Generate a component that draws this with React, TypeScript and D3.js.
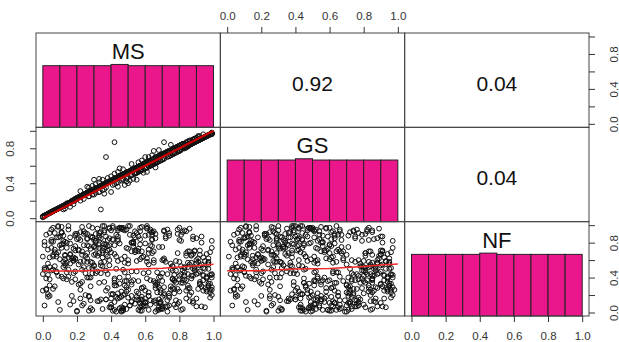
import * as d3 from "d3";
import { useEffect, useRef } from "react";

// variable names on the diagonal
const VARS = ["MS", "GS", "NF"];

// correlations shown in the upper panels: (row 0, col 1), (row 0, col 2), (row 1, col 2)
const CORR_LABELS = ["0.92", "0.04", "0.04"];

// histogram breaks and counts per variable
const BREAKS = [0, 0.1, 0.2, 0.3, 0.4, 0.5, 0.6, 0.7, 0.8, 0.9, 1.0];
const MS_COUNTS = [98, 98, 98, 98, 100, 98, 98, 98, 98, 98];
const GS_COUNTS = [98, 98, 98, 98, 100, 98, 98, 98, 98, 98];
const NF_COUNTS = [98, 98, 98, 98, 100, 98, 98, 98, 98, 98];

const TICKS = [0, 0.2, 0.4, 0.6, 0.8, 1.0];
const SIDE_LABELS = [0, 0.4, 0.8];

// smoothed fits
const SMOOTH_X = [0, 0.1, 0.2, 0.3, 0.4, 0.5, 0.6, 0.7, 0.8, 0.9, 1.0];
const SMOOTH_MS_GS = [0.0, 0.1, 0.2, 0.3, 0.4, 0.5, 0.6, 0.7, 0.8, 0.9, 1.0];
const SMOOTH_MS_NF = [0.478, 0.475, 0.476, 0.482, 0.486, 0.492, 0.5, 0.507, 0.52, 0.535, 0.552];
const SMOOTH_GS_NF = [0.478, 0.477, 0.479, 0.49, 0.497, 0.5, 0.504, 0.514, 0.528, 0.543, 0.556];

// observations, in percent
const MS = [
  3, 57, 81, 24, 66, 12, 95, 38, 47, 71, 8, 29, 88, 53, 16, 76, 41, 62, 99, 33,
  51, 19, 84, 6, 70, 43, 27, 92, 60, 35, 78, 1, 14, 65, 89, 46, 22, 55, 97, 31,
  74, 9, 42, 87, 58, 26, 13, 68, 36, 94, 49, 80, 4, 61, 20, 45, 99, 32, 72, 54,
  17, 63, 39, 90, 2, 77, 52, 28, 85, 11, 67, 44, 96, 23, 56, 34, 82, 7, 48, 73,
  30, 86, 5, 59, 41, 93, 18, 70, 25, 64, 50, 10, 79, 37, 97, 15, 57, 83, 46, 21,
  66, 3, 88, 40, 27, 75, 54, 14, 92, 33, 61, 8, 47, 84, 19, 71, 36, 98, 58, 24,
  45, 79, 12, 55, 96, 31, 68, 0, 83, 22, 49, 91, 38, 6, 73, 60, 16, 87, 29, 52,
  89, 26, 63, 9, 42, 77, 35, 99, 57, 18, 70, 4, 50, 81, 28, 94, 44, 13, 66, 37,
  58, 14, 93, 47, 21, 74, 5, 62, 38, 86, 30, 69, 97, 52, 11, 80, 43, 25, 90, 65,
  2, 36, 71, 53, 88, 19, 60, 44, 95, 27, 78, 10, 56, 32, 84, 48, 66, 7, 99, 40,
  82, 24, 49, 6, 64, 91, 33, 76, 15, 57, 98, 41, 69, 1, 85, 28, 54, 18, 73, 46,
  35, 67, 11, 90, 52, 26, 80, 42, 3, 61, 95, 17, 74, 39, 87, 21, 58, 45, 13, 70,
  94, 8, 47, 31, 76, 62, 19, 85, 54, 37, 99, 23, 68, 12, 50, 82, 29, 63, 5, 43,
  16, 72, 39, 96, 58, 4, 81, 27, 65, 48, 89, 34, 9, 77, 55, 20, 92, 41, 69, 30,
  51, 86, 23, 64, 7, 45, 97, 34, 78, 14, 60, 91, 26, 71, 40, 83, 1, 56, 18, 67,
  75, 38, 93, 11, 59, 29, 84, 47, 2, 66, 22, 79, 53, 97, 35, 70, 15, 88, 43, 61,
  25, 57, 6, 80, 44, 98, 32, 69, 13, 90, 50, 36, 74, 19, 62, 87, 41, 9, 94, 28,
  63, 0, 46, 85, 21, 72, 55, 10, 93, 37, 78, 27, 59, 4, 81, 49, 16, 99, 33, 68,
  8, 52, 30, 76, 15, 89, 42, 64, 24, 96, 57, 3, 82, 39, 70, 12, 48, 86, 34, 60,
  97, 43, 19, 66, 5, 83, 28, 71, 50, 12, 88, 35, 62, 1, 77, 46, 23, 92, 56, 39,
  42, 37, 34, 71, 30, 26, 45, 60, 55, 65, 48, 40, 52, 33, 58, 68, 44, 22, 75, 50,
  14, 68, 37, 92, 53, 6, 79, 25, 61, 44, 98, 19, 73, 31, 86, 2, 57, 40, 94, 11,
  48, 83, 22, 65, 9, 76, 39, 55, 96, 27, 70, 4, 45, 88, 16, 62, 33, 80, 51, 99,
  71, 7, 58, 34, 90, 20, 63, 47, 81, 13, 38, 95, 54, 26, 77, 1, 68, 42, 86, 30,
  5, 59, 93, 36, 74, 18, 49, 84, 28, 66, 10, 97, 41, 79, 23, 57, 89, 32, 64, 46,
  87, 41, 15, 72, 52, 98, 29, 64, 3, 81, 35, 57, 92, 20, 69, 46, 11, 76, 60, 24,
  33, 78, 56, 12, 91, 44, 67, 23, 85, 50, 7, 62, 39, 96, 18, 73, 28, 83, 48, 0,
  60, 26, 94, 39, 75, 8, 53, 87, 17, 69, 42, 99, 31, 58, 4, 82, 46, 21, 65, 37,
  19, 84, 48, 70, 2, 55, 36, 90, 62, 29, 77, 13, 45, 98, 24, 67, 52, 9, 80, 40,
  52, 31, 74, 6, 63, 88, 16, 43, 97, 26, 58, 80, 35, 11, 69, 92, 47, 22, 85, 56,
  27, 49, 33, 61, 40, 56, 36, 64, 44, 31, 53, 47, 38, 66, 29, 59, 42, 51, 35, 62,
];
const GS = [
  5, 55, 84, 22, 70, 14, 93, 41, 45, 74, 10, 27, 90, 56, 13, 78, 44, 60, 97, 36,
  49, 22, 82, 8, 67, 46, 25, 94, 63, 32, 80, 2, 17, 62, 91, 49, 20, 58, 95, 34,
  77, 11, 45, 85, 61, 29, 11, 71, 33, 96, 52, 77, 6, 58, 23, 48, 98, 35, 75, 51,
  19, 60, 42, 92, 4, 74, 55, 31, 83, 13, 70, 41, 94, 26, 53, 37, 80, 9, 51, 70,
  33, 88, 7, 62, 38, 91, 20, 73, 28, 61, 53, 12, 81, 40, 95, 17, 60, 85, 49, 24,
  63, 5, 90, 43, 25, 78, 51, 16, 90, 36, 64, 10, 44, 86, 22, 68, 39, 96, 61, 27,
  48, 81, 10, 58, 94, 34, 65, 1, 85, 25, 46, 93, 41, 8, 76, 57, 18, 89, 32, 55,
  87, 29, 66, 11, 45, 75, 38, 97, 54, 20, 73, 6, 53, 79, 31, 92, 47, 15, 63, 40,
  61, 16, 91, 50, 24, 71, 7, 65, 41, 84, 33, 72, 95, 55, 13, 83, 40, 28, 88, 68,
  4, 39, 68, 56, 86, 21, 63, 47, 93, 30, 81, 12, 53, 35, 87, 51, 63, 9, 97, 43,
  85, 27, 52, 8, 61, 94, 30, 79, 17, 60, 96, 44, 66, 3, 88, 31, 57, 16, 76, 49,
  38, 64, 13, 88, 55, 29, 83, 45, 5, 58, 93, 20, 71, 42, 85, 24, 61, 48, 15, 73,
  92, 10, 50, 34, 79, 59, 22, 83, 57, 40, 96, 26, 71, 14, 47, 85, 32, 66, 7, 46,
  18, 75, 42, 94, 61, 6, 79, 30, 62, 51, 91, 37, 11, 80, 52, 23, 90, 44, 72, 33,
  54, 84, 26, 61, 9, 48, 95, 37, 81, 16, 63, 89, 29, 74, 43, 81, 3, 59, 20, 70,
  72, 41, 91, 13, 62, 32, 81, 50, 4, 69, 25, 76, 56, 95, 38, 73, 17, 90, 46, 64,
  28, 60, 8, 77, 47, 96, 35, 72, 15, 88, 53, 39, 77, 21, 65, 85, 44, 11, 92, 31,
  66, 2, 49, 83, 24, 75, 52, 12, 91, 40, 81, 30, 62, 6, 84, 52, 18, 97, 36, 71,
  10, 55, 33, 79, 17, 87, 45, 67, 27, 94, 60, 5, 85, 42, 73, 14, 51, 84, 37, 63,
  95, 46, 21, 69, 7, 80, 31, 74, 53, 14, 86, 38, 65, 3, 80, 49, 26, 90, 59, 42,
  87, 70, 10, 87, 44, 36, 57, 70, 44, 77, 38, 30, 62, 45, 66, 78, 53, 31, 84, 40,
  16, 71, 35, 90, 56, 8, 76, 28, 58, 47, 96, 21, 76, 29, 84, 4, 54, 43, 92, 13,
  51, 81, 25, 68, 11, 73, 42, 52, 94, 30, 67, 6, 48, 86, 18, 65, 30, 83, 54, 97,
  74, 9, 55, 37, 88, 23, 60, 50, 84, 15, 41, 93, 51, 29, 80, 3, 71, 39, 89, 27,
  7, 62, 91, 39, 77, 20, 52, 81, 31, 63, 12, 95, 44, 82, 26, 60, 87, 35, 67, 43,
  85, 44, 17, 75, 49, 96, 32, 67, 5, 78, 38, 54, 90, 23, 72, 49, 13, 79, 57, 27,
  36, 75, 59, 14, 89, 47, 64, 26, 83, 53, 9, 65, 42, 94, 21, 76, 31, 80, 51, 2,
  63, 29, 92, 42, 72, 10, 56, 85, 19, 66, 45, 97, 34, 55, 6, 85, 49, 24, 62, 40,
  21, 82, 51, 73, 4, 58, 39, 88, 65, 32, 74, 15, 48, 96, 27, 64, 49, 11, 83, 43,
  55, 34, 71, 8, 66, 86, 18, 46, 95, 29, 61, 77, 38, 13, 72, 90, 50, 25, 82, 59,
  35, 42, 41, 53, 48, 64, 28, 72, 36, 39, 45, 56, 46, 58, 37, 52, 51, 43, 44, 70,
];
const NF = [
  72, 15, 44, 90, 31, 58, 6, 83, 49, 22, 64, 97, 11, 37, 79, 53, 2, 68, 40, 86,
  8, 61, 93, 27, 75, 50, 19, 35, 88, 4, 59, 81, 46, 13, 70, 96, 33, 24, 55, 67,
  91, 42, 3, 57, 18, 84, 66, 29, 73, 51, 95, 12, 38, 62, 1, 79, 26, 47, 85, 10,
  35, 77, 60, 16, 89, 43, 70, 5, 52, 98, 23, 84, 39, 66, 14, 92, 48, 30, 57, 1,
  54, 28, 81, 45, 97, 7, 63, 36, 20, 76, 41, 3, 68, 87, 30, 49, 11, 94, 18, 71,
  85, 21, 67, 9, 40, 56, 93, 74, 32, 13, 99, 47, 5, 25, 88, 62, 78, 43, 2, 59,
  17, 90, 52, 71, 26, 82, 6, 64, 38, 92, 29, 58, 76, 97, 44, 12, 86, 65, 3, 80,
  48, 68, 14, 99, 77, 37, 53, 20, 84, 45, 7, 31, 60, 89, 73, 25, 96, 56, 34, 15,
  63, 38, 87, 5, 55, 19, 95, 46, 28, 70, 83, 10, 50, 32, 74, 58, 18, 91, 7, 36,
  26, 94, 60, 80, 42, 71, 11, 87, 59, 2, 34, 77, 22, 65, 16, 46, 90, 53, 82, 69,
  4, 52, 36, 66, 92, 27, 78, 48, 99, 61, 17, 83, 41, 8, 57, 30, 71, 13, 95, 24,
  79, 34, 91, 56, 13, 85, 24, 67, 43, 96, 50, 19, 88, 6, 39, 72, 28, 97, 61, 45,
  37, 86, 20, 74, 53, 3, 90, 31, 69, 15, 44, 98, 11, 79, 26, 92, 57, 9, 48, 64,
  9, 58, 97, 41, 28, 63, 82, 18, 93, 36, 71, 54, 86, 22, 47, 2, 66, 84, 12, 75,
  89, 13, 49, 84, 69, 97, 33, 57, 6, 80, 25, 62, 40, 94, 16, 51, 77, 3, 59, 32,
  50, 71, 30, 92, 7, 45, 68, 95, 39, 14, 83, 27, 76, 62, 99, 18, 41, 87, 1, 58,
  65, 2, 81, 38, 59, 23, 96, 12, 54, 85, 73, 35, 8, 47, 89, 66, 21, 98, 42, 14,
  93, 44, 6, 70, 32, 87, 15, 61, 80, 25, 48, 99, 64, 19, 3, 74, 56, 29, 91, 40,
  46, 19, 76, 28, 95, 52, 34, 83, 10, 67, 97, 56, 37, 72, 4, 88, 64, 20, 45, 79,
  31, 89, 62, 1, 74, 42, 58, 93, 17, 39, 84, 68, 23, 51, 36, 97, 8, 71, 87, 54,
  12, 66, 85, 29, 53, 77, 40, 8, 91, 60, 21, 94, 47, 34, 70, 15, 82, 58, 26, 99,
  57, 3, 78, 33, 88, 64, 10, 45, 97, 22, 69, 38, 14, 82, 55, 27, 93, 6, 63, 41,
  94, 46, 26, 70, 12, 38, 85, 59, 24, 76, 5, 91, 33, 50, 67, 19, 74, 97, 8, 43,
  20, 72, 98, 15, 60, 90, 37, 2, 53, 81, 44, 28, 86, 62, 9, 49, 75, 31, 96, 66,
  83, 29, 55, 92, 17, 73, 4, 65, 40, 11, 87, 58, 21, 95, 35, 78, 50, 13, 68, 2,
  42, 99, 63, 7, 80, 26, 51, 89, 18, 34, 71, 6, 47, 84, 23, 61, 92, 39, 16, 77,
  68, 14, 36, 82, 45, 94, 3, 70, 28, 56, 91, 19, 77, 40, 60, 7, 87, 52, 31, 25,
  11, 58, 43, 96, 30, 67, 81, 23, 62, 4, 39, 74, 90, 15, 52, 34, 1, 85, 57, 48,
  76, 37, 9, 60, 50, 18, 99, 44, 72, 86, 27, 65, 5, 33, 93, 46, 12, 69, 83, 21,
  35, 80, 22, 49, 95, 13, 66, 31, 57, 90, 8, 42, 63, 78, 26, 54, 97, 16, 44, 73,
  51, 24, 88, 39, 6, 70, 58, 92, 16, 45, 79, 3, 64, 28, 86, 10, 37, 99, 74, 55,
];

const W = 619;
const H = 342;
const LEFT = 36, RIGHT = 589, TOP = 33, BOTTOM = 316;
const FONT = "'Liberation Sans', Arial, sans-serif";
const PINK = "#ec168c";

export default function App() {
  const topAxis = useRef<SVGGElement>(null);
  const bottomAxes = useRef<SVGGElement>(null);
  const sideAxes = useRef<SVGGElement>(null);

  const cw = (RIGHT - LEFT) / 3;
  const rh = (BOTTOM - TOP) / 3;
  const xs = [0, 1, 2].map((i) =>
    d3.scaleLinear().domain([-0.04, 1.04]).range([LEFT + i * cw, LEFT + (i + 1) * cw])
  );
  const ys = [0, 1, 2].map((i) =>
    d3.scaleLinear().domain([-0.04, 1.04]).range([TOP + (i + 1) * rh, TOP + i * rh])
  );
  const vals = [MS, GS, NF].map((a) => a.map((v) => v / 100));
  const counts = [MS_COUNTS, GS_COUNTS, NF_COUNTS];
  const smooths: Record<string, number[]> = { "1-0": SMOOTH_MS_GS, "2-0": SMOOTH_MS_NF, "2-1": SMOOTH_GS_NF };
  const corrPos = [[0, 1], [0, 2], [1, 2]];

  useEffect(() => {
    const fmt = d3.format(".1f");
    const style = (g: any) => {
      g.select(".domain").remove();
      g.attr("font-family", FONT).attr("font-size", 11.5).attr("color", "#333");
      g.selectAll("line").attr("stroke-width", 1);
    };

    const t = d3.select(topAxis.current);
    t.selectAll("*").remove();
    t.append("g")
      .attr("transform", `translate(0,${TOP})`)
      .call(d3.axisTop(xs[1]).tickValues(TICKS).tickFormat(fmt).tickSize(6).tickPadding(7))
      .call(style);

    const b = d3.select(bottomAxes.current);
    b.selectAll("*").remove();
    [0, 2].forEach((c) => {
      b.append("g")
        .attr("transform", `translate(0,${BOTTOM})`)
        .call(d3.axisBottom(xs[c]).tickValues(TICKS).tickFormat(fmt).tickSize(6).tickPadding(10))
        .call(style);
    });

    const s = d3.select(sideAxes.current);
    s.selectAll("*").remove();
    const sideFmt = (d: any) => (SIDE_LABELS.some((v) => Math.abs(v - d) < 1e-9) ? fmt(d) : "");
    // left axis on row 1, right axis on rows 0 and 2
    const sides: [number, boolean][] = [[1, true], [0, false], [2, false]];
    sides.forEach(([r, isLeft]) => {
      const g = s.append("g")
        .attr("transform", `translate(${isLeft ? LEFT : RIGHT},0)`)
        .call(
          (isLeft ? d3.axisLeft(ys[r]) : d3.axisRight(ys[r]))
            .tickValues(TICKS).tickFormat(sideFmt).tickSize(6)
        )
        .call(style);
      g.selectAll("text")
        .attr("x", 0).attr("y", 0).attr("dy", "0.35em")
        .attr("text-anchor", "middle")
        .attr("transform", `translate(${isLeft ? -26 : 25},0) rotate(-90)`);
    });
  }, []);

  const line = (c: number, r: number) =>
    d3.line<number>()
      .x((_, i) => xs[c](SMOOTH_X[i]))
      .y((d) => ys[r](d));

  const panels: JSX.Element[] = [];
  for (let r = 0; r < 3; r++) {
    for (let c = 0; c < 3; c++) {
      const key = `${r}-${c}`;
      if (r === c) {
        const cnt = counts[r];
        const max = d3.max(cnt) as number;
        const base = TOP + (r + 1) * rh;
        const yHist = d3.scaleLinear().domain([0, 1.5]).range([base, TOP + r * rh]);
        panels.push(
          <g key={key}>
            {cnt.map((n, i) => (
              <rect
                key={i}
                x={xs[c](BREAKS[i])}
                y={yHist(n / max)}
                width={xs[c](BREAKS[i + 1]) - xs[c](BREAKS[i])}
                height={base - yHist(n / max)}
                fill={PINK}
                stroke="#222"
                strokeWidth={1}
              />
            ))}
            <text
              x={LEFT + (c + 0.5) * cw}
              y={TOP + r * rh + 18}
              dy="0.36em"
              textAnchor="middle"
              fontFamily={FONT}
              fontSize={22}
              fill="#111"
            >
              {VARS[r]}
            </text>
          </g>
        );
      } else if (r > c) {
        const xv = vals[c];
        const yv = vals[r];
        const diag = r === 1 && c === 0;
        panels.push(
          <g key={key}>
            {xv.map((v, i) => (
              <circle
                key={i}
                cx={xs[c](v)}
                cy={ys[r](yv[i])}
                r={2.4}
                fill="none"
                stroke="#111"
                strokeWidth={1}
              />
            ))}
            <path
              d={line(c, r)(smooths[key]) || ""}
              fill="none"
              stroke={diag ? "#cc0000" : "#f02828"}
              strokeWidth={diag ? 2.2 : 1.5}
            />
          </g>
        );
      }
    }
  }

  return (
    <svg
      width={W}
      height={H}
      style={{ position: "absolute", left: 0, top: 0, background: "#fff" }}
    >
      <rect x={0} y={0} width={W} height={H} fill="#fff" />
      {panels}
      {corrPos.map(([r, c], i) => (
        <text
          key={`corr-${i}`}
          x={LEFT + (c + 0.5) * cw}
          y={TOP + r * rh + 50}
          dy="0.36em"
          textAnchor="middle"
          fontFamily={FONT}
          fontSize={21}
          fill="#111"
        >
          {CORR_LABELS[i]}
        </text>
      ))}
      {[0, 1, 2].map((r) =>
        [0, 1, 2].map((c) => (
          <rect
            key={`box-${r}-${c}`}
            x={LEFT + c * cw}
            y={TOP + r * rh}
            width={cw}
            height={rh}
            fill="none"
            stroke="#444"
            strokeWidth={1}
          />
        ))
      )}
      <g ref={topAxis} />
      <g ref={bottomAxes} />
      <g ref={sideAxes} />
    </svg>
  );
}
